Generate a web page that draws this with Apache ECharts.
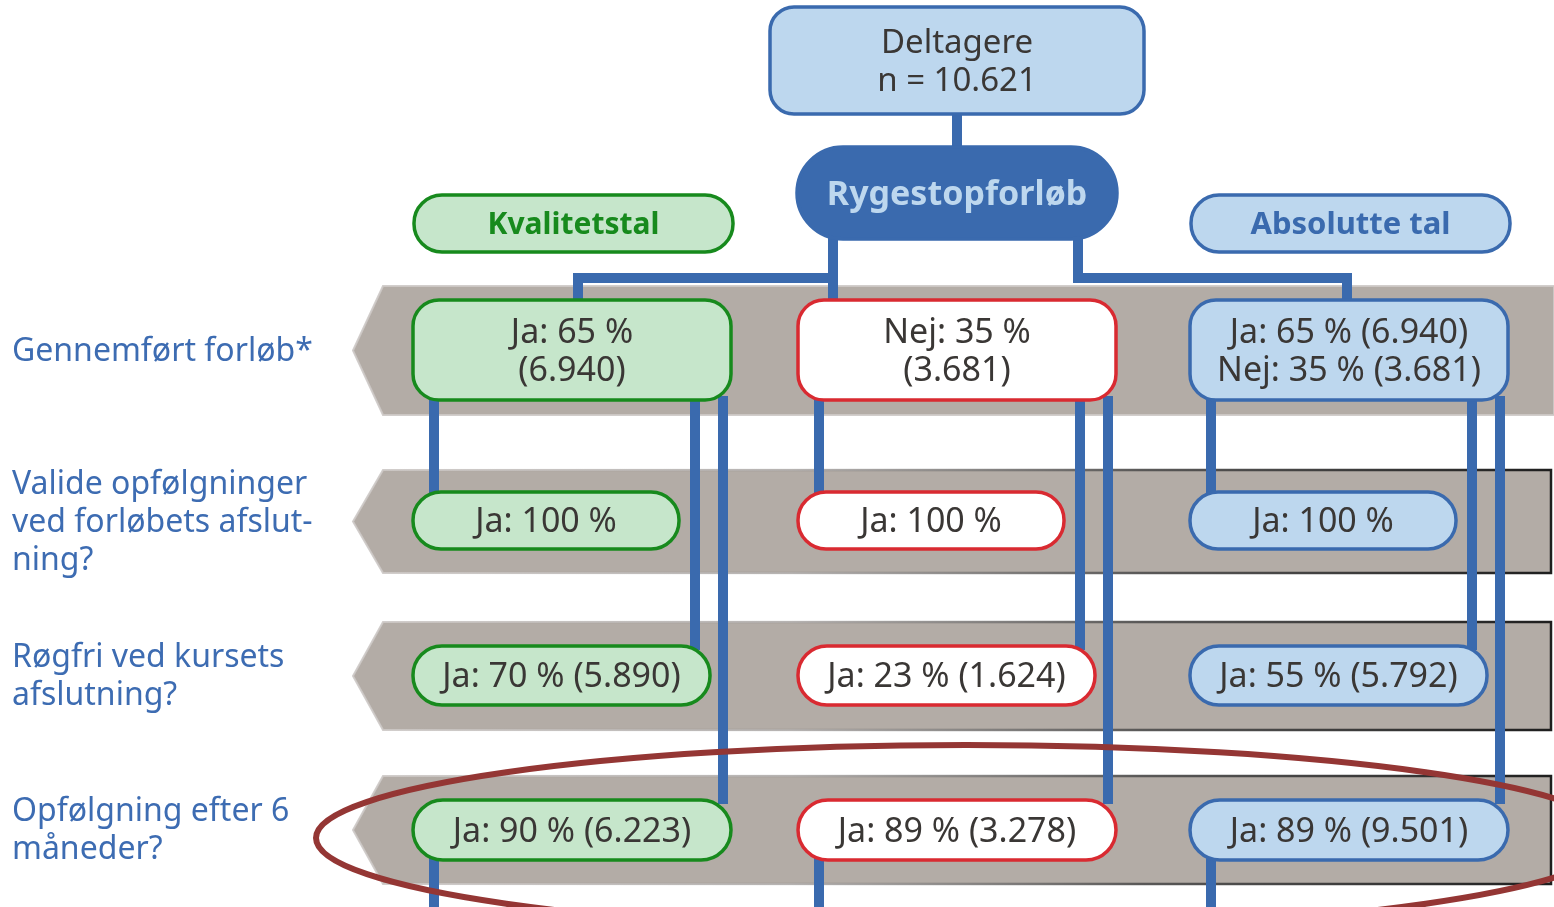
<!DOCTYPE html>
<html>
<head>
<meta charset="utf-8">
<script src="https://cdn.jsdelivr.net/npm/echarts@6/dist/echarts.min.js"></script>
<style>
html,body{margin:0;padding:0;background:#ffffff;}
#chart{width:1554px;height:907px;}
</style>
</head>
<body>
<div id="chart"></div>
<script>
// ---------------- DATA ----------------
const participantsTitle = 'Deltagere';
const participantsCount = 10621;
const programTitle = 'Rygestopforløb';
const panelTitles = ['Kvalitetstal', 'Absolutte tal'];
const questions = [
  'Gennemført forløb*',
  'Valide opfølgninger\nved forløbets afslut-\nning?',
  'Røgfri ved kursets\nafslutning?',
  'Opfølgning efter 6\nmåneder?'
];
// Kvalitetstal column (completed course)
const completedAnswer = ['Ja', 'Ja', 'Ja', 'Ja'];
const completedPct = [65, 100, 70, 90];
const completedCount = [6940, null, 5890, 6223];
// Middle column (not completed course)
const notCompletedAnswer = ['Nej', 'Ja', 'Ja', 'Ja'];
const notCompletedPct = [35, 100, 23, 89];
const notCompletedCount = [3681, null, 1624, 3278];
// Absolutte tal column
const totalYesPct = [65, 100, 55, 89];
const totalYesCount = [6940, null, 5792, 9501];
const totalNoPct = [35, null, null, null];
const totalNoCount = [3681, null, null, null];

// ---------------- HELPERS ----------------
function fmt(n) { return String(n).replace(/\B(?=(\d{3})+(?!\d))/g, '.'); }
function answerText(ans, pct, cnt, split) {
  let s = ans + ': ' + pct + ' %';
  if (cnt != null) s += (split ? '\n' : ' ') + '(' + fmt(cnt) + ')';
  return s;
}

// ---------------- LAYOUT / STYLE ----------------
const FONT = '"Noto Sans", "Open Sans", sans-serif';
const TXT = '#3a3735';
const BLUE = '#3a6aae';
const LIGHTBLUE = '#bdd7ee';
const GREEN = '#178a1d';
const GREENFILL = '#c6e6cb';
const RED = '#d92a31';
const BAND = '#b3aca6';

const colLeft = [413, 798, 1190];
const colStyle = [
  { fill: GREENFILL, stroke: GREEN },
  { fill: '#ffffff', stroke: RED },
  { fill: LIGHTBLUE, stroke: BLUE }
];
const rowBox = [
  { y: 300, h: 100, w: 318, r: 26 },
  { y: 492, h: 57, w: 266, r: 28 },
  { y: 646, h: 59, w: 297, r: 29 },
  { y: 800, h: 60, w: 318, r: 30 }
];
const splitRow0 = [true, true, false];
const bandY = [[286, 415], [470, 573], [622, 730], [776, 884]];
const bandRight = [1554, 1551, 1551, 1551];
const bandBorder = [false, true, true, true];
const lineOffsets = [21, 282, 310];

// ---------------- BUILD ELEMENTS ----------------
const els = [];
// bands
bandY.forEach((b, i) => {
  els.push({ kind: 'band', top: b[0], bot: b[1], right: bandRight[i], border: bandBorder[i] });
});
// top connectors
els.push({ kind: 'line', pts: [[957, 110], [957, 152]] });
els.push({ kind: 'line', pts: [[833, 230], [833, 304]] });
els.push({ kind: 'line', pts: [[833, 278], [578, 278], [578, 304]] });
els.push({ kind: 'line', pts: [[1078, 230], [1078, 278], [1347, 278], [1347, 304]] });
// column connectors
colLeft.forEach((x0) => {
  const r0b = rowBox[0].y + rowBox[0].h - 4;
  els.push({ kind: 'line', pts: [[x0 + lineOffsets[0], r0b], [x0 + lineOffsets[0], rowBox[1].y + 4]] });
  els.push({ kind: 'line', pts: [[x0 + lineOffsets[1], r0b], [x0 + lineOffsets[1], rowBox[2].y + 4]] });
  els.push({ kind: 'line', pts: [[x0 + lineOffsets[2], r0b], [x0 + lineOffsets[2], rowBox[3].y + 4]] });
  els.push({ kind: 'line', pts: [[x0 + lineOffsets[0], rowBox[3].y + rowBox[3].h - 4], [x0 + lineOffsets[0], 910]] });
});
// header boxes
els.push({ kind: 'box', x: 770, y: 7, w: 374, h: 107, r: 24, fill: LIGHTBLUE, stroke: BLUE,
  text: participantsTitle + '\nn = ' + fmt(participantsCount), color: TXT, font: '33px ' + FONT });
els.push({ kind: 'box', x: 797, y: 147, w: 320, h: 92, r: 46, fill: BLUE, stroke: BLUE,
  text: programTitle, color: LIGHTBLUE, font: 'bold 34px ' + FONT });
els.push({ kind: 'box', x: 414, y: 195, w: 319, h: 57, r: 28, fill: GREENFILL, stroke: GREEN,
  text: panelTitles[0], color: GREEN, font: 'bold 30px ' + FONT });
els.push({ kind: 'box', x: 1191, y: 195, w: 319, h: 57, r: 28, fill: LIGHTBLUE, stroke: BLUE,
  text: panelTitles[1], color: BLUE, font: 'bold 31px ' + FONT });
// answer boxes
for (let i = 0; i < 4; i++) {
  const texts = [
    answerText(completedAnswer[i], completedPct[i], completedCount[i], i === 0 && splitRow0[0]),
    answerText(notCompletedAnswer[i], notCompletedPct[i], notCompletedCount[i], i === 0 && splitRow0[1]),
    answerText('Ja', totalYesPct[i], totalYesCount[i], false) +
      (totalNoPct[i] != null ? '\n' + answerText('Nej', totalNoPct[i], totalNoCount[i], false) : '')
  ];
  for (let c = 0; c < 3; c++) {
    const rb = rowBox[i];
    els.push({ kind: 'box', x: colLeft[c], y: rb.y, w: rb.w, h: rb.h, r: rb.r,
      fill: colStyle[c].fill, stroke: colStyle[c].stroke, text: texts[c], color: TXT, font: '34px ' + FONT });
  }
}
// question labels
questions.forEach((q, i) => {
  els.push({ kind: 'label', x: 12, y: (bandY[i][0] + bandY[i][1]) / 2 + 1, text: q });
});
// highlight ellipse
els.push({ kind: 'ellipse', cx: 966, cy: 838, rx: 650, ry: 93 });

// ---------------- RENDER ----------------
function renderItem(params, api) {
  const e = els[params.dataIndex];
  const P = (x, y) => api.coord([x, y]);
  if (e.kind === 'band') {
    const tipX = 353, bodyX = 383, mid = (e.top + e.bot) / 2;
    const pts = [P(tipX, mid), P(bodyX, e.top), P(e.right, e.top), P(e.right, e.bot), P(bodyX, e.bot)];
    const children = [{
      type: 'polygon', shape: { points: pts },
      style: { fill: BAND, stroke: 'rgba(205,201,198,0.9)', lineWidth: 2 }
    }];
    if (e.border) {
      children.push({
        type: 'polyline',
        shape: { points: [P(bodyX, e.top), P(e.right, e.top), P(e.right, e.bot), P(bodyX, e.bot)] },
        style: {
          fill: null, lineWidth: 2.5,
          stroke: { type: 'linear', x: 0, y: 0, x2: 1, y2: 0, colorStops: [
            { offset: 0, color: 'rgba(70,70,70,0)' },
            { offset: 0.35, color: 'rgba(70,70,70,0.2)' },
            { offset: 0.65, color: 'rgba(50,50,50,0.75)' },
            { offset: 1, color: 'rgba(30,30,30,1)' }] }
        }
      });
    }
    return { type: 'group', children };
  }
  if (e.kind === 'line') {
    return { type: 'polyline', shape: { points: e.pts.map(p => P(p[0], p[1])) },
      style: { fill: null, stroke: BLUE, lineWidth: 10, lineJoin: 'miter', lineCap: 'butt' } };
  }
  if (e.kind === 'box') {
    const a = P(e.x, e.y), b = P(e.x + e.w, e.y + e.h);
    const x = Math.min(a[0], b[0]), y = Math.min(a[1], b[1]);
    const w = Math.abs(b[0] - a[0]), h = Math.abs(b[1] - a[1]);
    return { type: 'group', children: [
      { type: 'rect', shape: { x, y, width: w, height: h, r: e.r },
        style: { fill: e.fill, stroke: e.stroke, lineWidth: 3.5 } },
      { type: 'text', style: { text: e.text, x: x + w / 2, y: y + h / 2 + 2, fill: e.color, font: e.font,
        align: 'center', verticalAlign: 'middle', lineHeight: 38 } }
    ] };
  }
  if (e.kind === 'label') {
    const p = P(e.x, e.y);
    return { type: 'text', style: { text: e.text, x: p[0], y: p[1], fill: '#3d6cb2',
      font: '32px ' + FONT, align: 'left', verticalAlign: 'middle', lineHeight: 38 } };
  }
  if (e.kind === 'ellipse') {
    const c = P(e.cx, e.cy), r = P(e.cx + e.rx, e.cy + e.ry);
    return { type: 'ellipse', shape: { cx: c[0], cy: c[1], rx: Math.abs(r[0] - c[0]), ry: Math.abs(r[1] - c[1]) },
      style: { fill: null, stroke: '#943634', lineWidth: 6 } };
  }
  return null;
}

const chart = echarts.init(document.getElementById('chart'), null, { renderer: 'canvas' });
chart.setOption({
  animation: false,
  backgroundColor: '#ffffff',
  grid: { left: 0, right: 0, top: 0, bottom: 0 },
  xAxis: { type: 'value', min: 0, max: 1554, show: false },
  yAxis: { type: 'value', min: 0, max: 907, inverse: true, show: false },
  series: [{
    type: 'custom',
    coordinateSystem: 'cartesian2d',
    clip: false,
    silent: true,
    renderItem: renderItem,
    data: els.map((e, i) => [i, 0])
  }]
});
</script>
</body>
</html>
